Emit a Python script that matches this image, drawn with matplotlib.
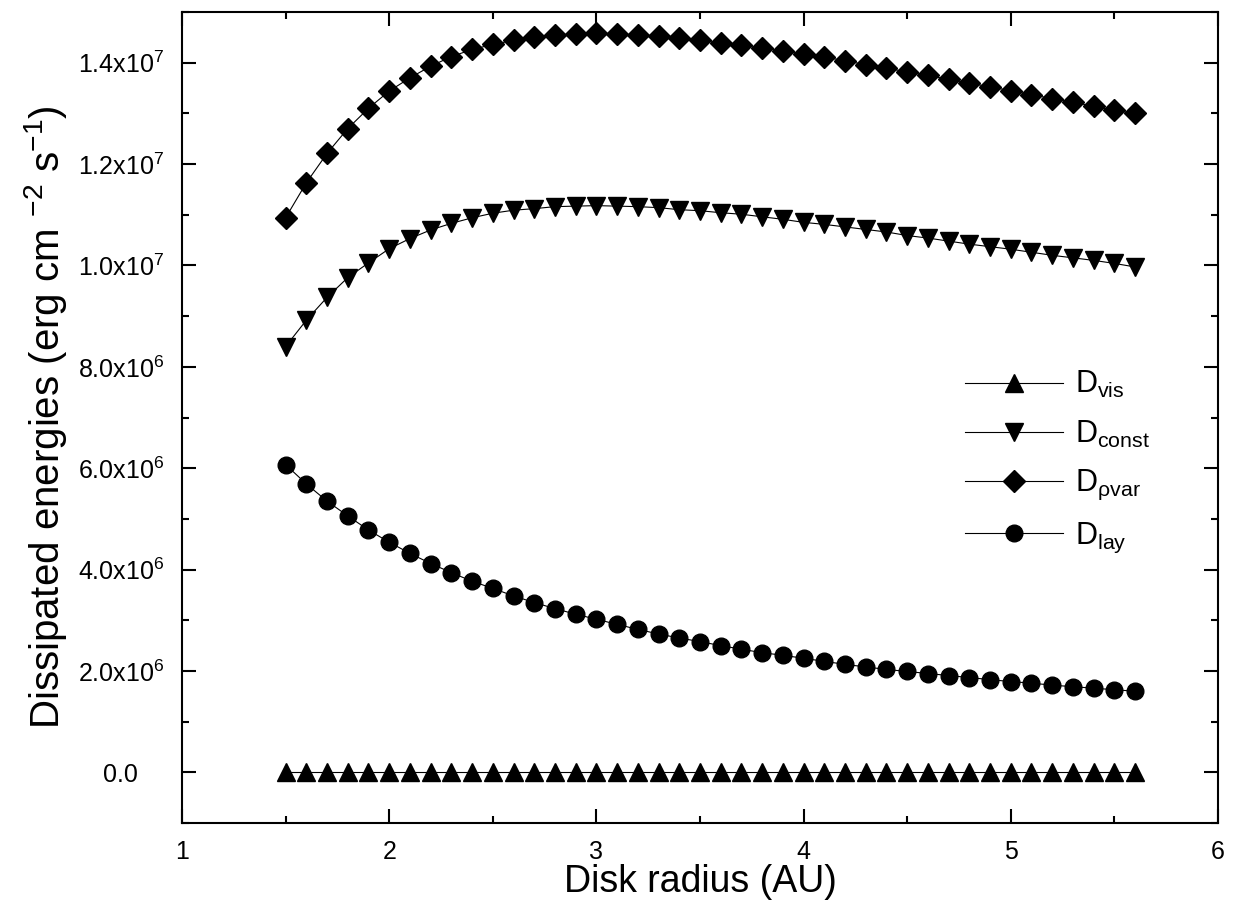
import matplotlib
matplotlib.use('Agg')
import matplotlib.pyplot as plt
from matplotlib.ticker import MultipleLocator, FuncFormatter

# disk radius (AU)
radius = [1.5, 1.6, 1.7, 1.8, 1.9, 2.0, 2.1, 2.2, 2.3, 2.4, 2.5, 2.6, 2.7, 2.8,
          2.9, 3.0, 3.1, 3.2, 3.3, 3.4, 3.5, 3.6, 3.7, 3.8, 3.9, 4.0, 4.1, 4.2,
          4.3, 4.4, 4.5, 4.6, 4.7, 4.8, 4.9, 5.0, 5.1, 5.2, 5.3, 5.4, 5.5, 5.6]

# dissipated energies, units of 1e6 erg cm^-2 s^-1
d_vis = [0.0, 0.0, 0.0, 0.0, 0.0, 0.0, 0.0, 0.0, 0.0, 0.0, 0.0, 0.0, 0.0, 0.0,
         0.0, 0.0, 0.0, 0.0, 0.0, 0.0, 0.0, 0.0, 0.0, 0.0, 0.0, 0.0, 0.0, 0.0,
         0.0, 0.0, 0.0, 0.0, 0.0, 0.0, 0.0, 0.0, 0.0, 0.0, 0.0, 0.0, 0.0, 0.0]
d_const = [8.40, 8.92, 9.37, 9.76, 10.05, 10.33, 10.53, 10.70, 10.83, 10.94,
           11.03, 11.09, 11.12, 11.16, 11.17, 11.18, 11.17, 11.16, 11.14, 11.10,
           11.08, 11.04, 11.01, 10.96, 10.91, 10.85, 10.81, 10.76, 10.71, 10.66,
           10.59, 10.54, 10.48, 10.42, 10.37, 10.32, 10.26, 10.20, 10.15, 10.10,
           10.04, 9.97]
d_rhovar = [10.94, 11.63, 12.21, 12.70, 13.10, 13.44, 13.70, 13.93, 14.12, 14.26,
            14.36, 14.44, 14.51, 14.54, 14.57, 14.58, 14.56, 14.54, 14.52, 14.49,
            14.44, 14.39, 14.34, 14.29, 14.23, 14.17, 14.11, 14.04, 13.96, 13.89,
            13.82, 13.75, 13.67, 13.60, 13.52, 13.45, 13.37, 13.29, 13.22, 13.14,
            13.06, 13.00]
d_lay = [6.07, 5.69, 5.35, 5.06, 4.78, 4.54, 4.32, 4.12, 3.94, 3.77, 3.63, 3.48,
         3.35, 3.23, 3.12, 3.02, 2.92, 2.82, 2.73, 2.65, 2.58, 2.50, 2.43, 2.36,
         2.31, 2.25, 2.19, 2.13, 2.08, 2.03, 1.99, 1.95, 1.91, 1.87, 1.83, 1.79,
         1.76, 1.72, 1.69, 1.66, 1.63, 1.60]

labels = [r'D$_{\mathrm{vis}}$', r'D$_{\mathrm{const}}$',
          r'D$_{\mathrm{\rho var}}$', r'D$_{\mathrm{lay}}$']

plt.rcParams['font.family'] = ['Liberation Sans', 'DejaVu Sans']
plt.rcParams['mathtext.fontset'] = 'custom'
plt.rcParams['mathtext.rm'] = 'Liberation Sans'
plt.rcParams['mathtext.it'] = 'Liberation Sans'
plt.rcParams['mathtext.default'] = 'regular'


def sci_label(v, pos):
    if abs(v) < 1:
        return '0.0'
    exp = 0
    m = v
    while abs(m) >= 10:
        m /= 10
        exp += 1
    return '%.1fx10$^{%d}$' % (m, exp)


fig = plt.figure(figsize=(12.34, 9.15), dpi=100)
ax = fig.add_axes([0.1475, 0.1005, 0.8395, 0.8864])

scale = 1e6
series = [(d_vis, '^', 13), (d_const, 'v', 13), (d_rhovar, 'D', 11), (d_lay, 'o', 12)]
for (vals, mk, ms), lab in zip(series, labels):
    ax.plot(radius, [v * scale for v in vals], color='black', lw=0.8,
            marker=mk, ms=ms, mfc='black', mec='black', label=lab)

ax.set_xlim(1, 6)
ax.set_ylim(-1e6, 1.5e7)
ax.xaxis.set_major_locator(MultipleLocator(1))
ax.xaxis.set_minor_locator(MultipleLocator(0.5))
ax.yaxis.set_major_locator(MultipleLocator(2e6))
ax.yaxis.set_minor_locator(MultipleLocator(1e6))
ax.yaxis.set_major_formatter(FuncFormatter(sci_label))

ax.tick_params(which='both', direction='in', top=True, right=True, width=1.5)
ax.tick_params(which='major', length=10)
ax.tick_params(which='minor', length=5)
ax.tick_params(axis='x', labelsize=18, pad=12)
ax.tick_params(axis='y', labelsize=18, pad=44)
for t in ax.get_yticklabels():
    t.set_ha('center')
for sp in ax.spines.values():
    sp.set_linewidth(1.5)

ax.set_xlabel('Disk radius (AU)', fontsize=27, labelpad=0)
ax.set_ylabel(r'Dissipated energies (erg cm $^{-2}$ s$^{-1}$)', fontsize=29,
              labelpad=6)

ax.legend(loc='center left', bbox_to_anchor=(0.756, 0.445), frameon=False,
          fontsize=22, handlelength=3.2, handletextpad=0.4, labelspacing=0.6,
          borderpad=0, borderaxespad=0)

fig.savefig('out.png', dpi=100)
